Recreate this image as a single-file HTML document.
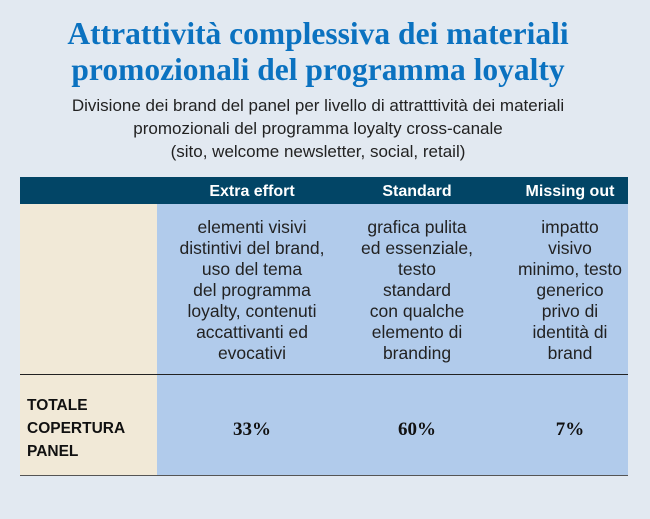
<!DOCTYPE html>
<html><head><meta charset="utf-8"><style>
body{margin:0;width:650px;height:519px;background:#e2e9f1;position:relative;overflow:hidden;font-family:"Liberation Sans",sans-serif}
.t{position:absolute;left:0;width:636px;text-align:center;font-family:"Liberation Serif",serif;font-weight:bold;color:#0b72c0;font-size:31.5px;line-height:36px;top:16px;white-space:nowrap}
.s{position:absolute;left:0;width:636px;text-align:center;color:#222;font-size:17px;line-height:23px;top:94px;white-space:nowrap}
.hdr{position:absolute;left:20px;top:177px;width:608px;height:27px;background:#024566}
.h{position:absolute;top:177px;height:27px;line-height:30px;color:#fff;font-weight:bold;font-size:16px;text-align:center}
.c1{position:absolute;left:20px;width:137px;background:#f1e9d7}
.c2{position:absolute;left:157px;width:471px;background:#b1cbeb}
.line{position:absolute;left:20px;width:608px;height:1px;background:#222}
.txt{position:absolute;top:217px;text-align:center;font-size:17.5px;line-height:21px;color:#222;white-space:nowrap}
.p{position:absolute;top:419px;text-align:center;font-family:"Liberation Serif",serif;font-weight:bold;font-size:19px;color:#111}
</style></head><body>
<div class="t">Attrattività complessiva dei materiali<br>promozionali del programma loyalty</div>
<div class="s">Divisione dei brand del panel per livello di attratttività dei materiali<br>promozionali del programma loyalty cross-canale<br>(sito, welcome newsletter, social, retail)</div>
<div class="hdr"></div>
<div class="h" style="left:172px;width:160px">Extra effort</div>
<div class="h" style="left:337px;width:160px">Standard</div>
<div class="h" style="left:490px;width:160px">Missing out</div>
<div class="c1" style="top:204px;height:271px"></div>
<div class="c2" style="top:204px;height:271px"></div>
<div class="line" style="top:374px"></div>
<div class="line" style="top:475px;background:#555"></div>
<div class="txt" style="left:152px;width:200px">elementi visivi<br>distintivi del brand,<br>uso del tema<br>del programma<br>loyalty, contenuti<br>accattivanti ed<br>evocativi</div>
<div class="txt" style="left:317px;width:200px">grafica pulita<br>ed essenziale,<br>testo<br>standard<br>con qualche<br>elemento di<br>branding</div>
<div class="txt" style="left:470px;width:200px">impatto<br>visivo<br>minimo, testo<br>generico<br>privo di<br>identità di<br>brand</div>
<div style="position:absolute;left:27px;top:394px;font-weight:bold;font-size:15.5px;line-height:23px;color:#111">TOTALE<br>COPERTURA<br>PANEL</div>
<div class="p" style="left:172px;width:160px">33%</div>
<div class="p" style="left:337px;width:160px">60%</div>
<div class="p" style="left:490px;width:160px">7%</div>
</body></html>
